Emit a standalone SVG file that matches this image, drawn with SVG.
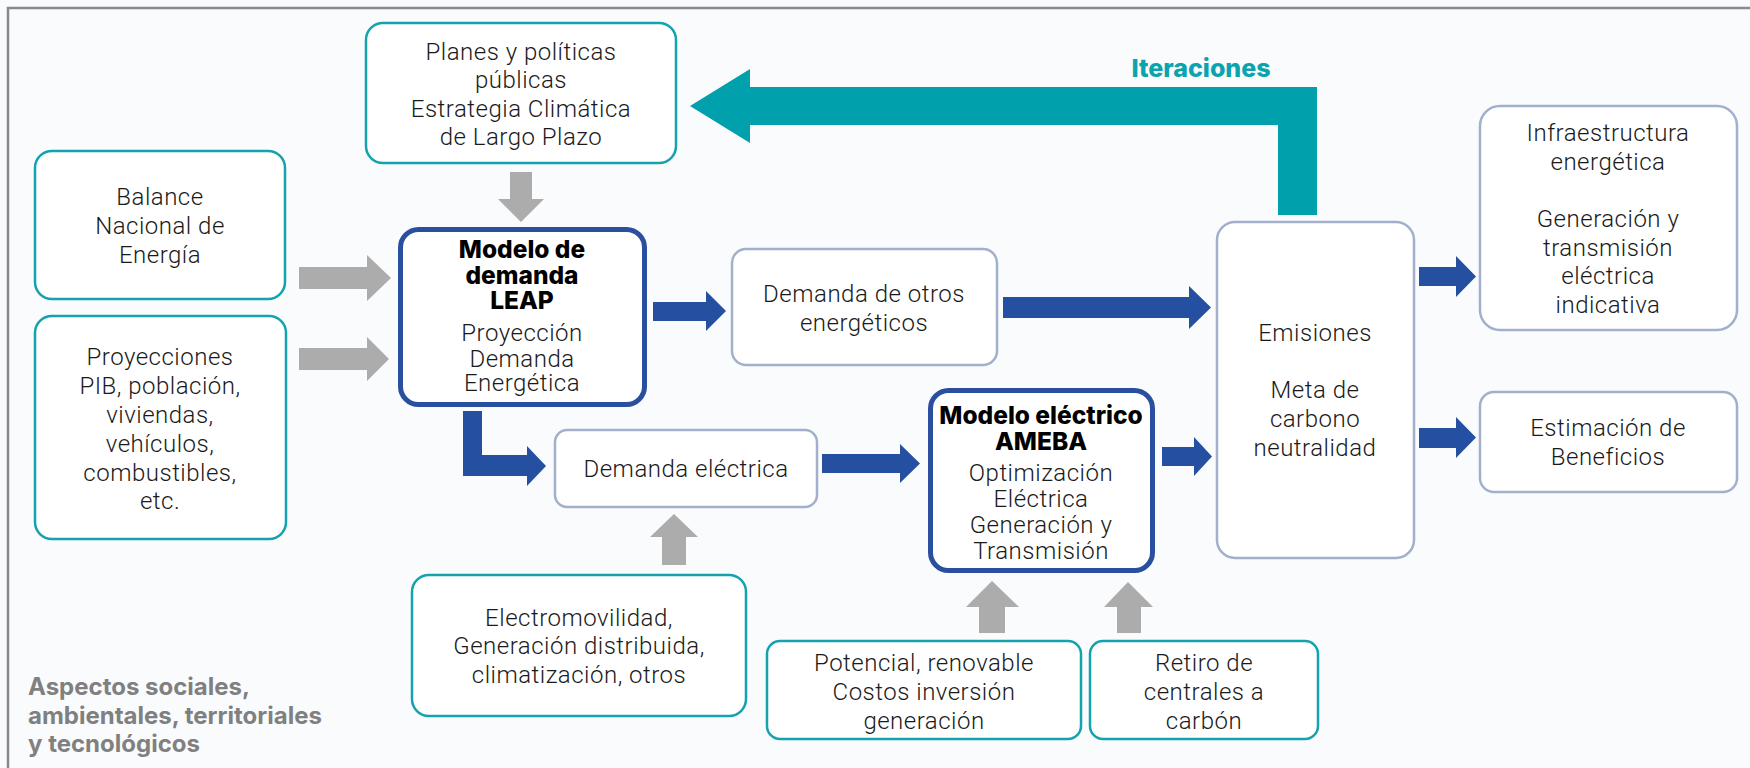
<svg xmlns="http://www.w3.org/2000/svg" width="1750" height="768" viewBox="0 0 1750 768">
<style>
.bg{fill:#f9fbfd}
.teal{fill:#ffffff;stroke:#14a3ae;stroke-width:2.5}
.blue{fill:#ffffff;stroke:#2a4f9f;stroke-width:5}
.grey{fill:#ffffff;stroke:#a2b0cc;stroke-width:2.5}
.t{font-family:Roboto,"Liberation Sans",sans-serif;font-weight:300;font-size:24px;letter-spacing:0.5px;fill:#1a1a1a;text-anchor:middle;dominant-baseline:central}
.b{font-family:Inter,"Liberation Sans",sans-serif;font-weight:800;font-size:24.5px;fill:#000000;text-anchor:middle;dominant-baseline:central}
.ga{fill:#acacac}
.ba{fill:#2550a2}
.ta{fill:#00a1ad}
.asp{font-family:Inter,"Liberation Sans",sans-serif;font-weight:700;font-size:24px;fill:#808080;dominant-baseline:central}
.it{font-family:Inter,"Liberation Sans",sans-serif;font-weight:800;font-size:25px;fill:#0ba3ad;text-anchor:middle;dominant-baseline:central}
</style>
<rect class="bg" x="0" y="0" width="1750" height="768"/>
<path d="M8 768 L8 8 L1750 8" fill="none" stroke="#8a8a8a" stroke-width="2.5"/>

<g id="connectors">
  <path id="iteraciones-arrow" class="ta" d="M1317 215 L1317 87 L750 87 L750 69 L690 106 L750 143 L750 125 L1278 125 L1278 215 Z"/>
  <path class="ga" d="M510 172 L532 172 L532 199 L544 199 L521 222 L498 199 L510 199 Z"/>
  <path class="ga" d="M299 267 L367 267 L367 255 L391 278 L367 301 L367 289 L299 289 Z"/>
  <path class="ga" d="M299 348 L367 348 L367 337 L389 359 L367 381 L367 370 L299 370 Z"/>
  <path class="ba" d="M653 302 L706 302 L706 291 L726 311 L706 331 L706 321 L653 321 Z"/>
  <path class="ba" d="M1003 297 L1189 297 L1189 286 L1211 307.5 L1189 329 L1189 318 L1003 318 Z"/>
  <path class="ba" d="M463 411 L482 411 L482 455 L527 455 L527 446 L546 466 L527 486 L527 476 L463 476 Z"/>
  <path class="ba" d="M822 454 L900 454 L900 444 L920 463.5 L900 483 L900 473 L822 473 Z"/>
  <path class="ba" d="M1162 447 L1194 447 L1194 437 L1212 456.5 L1194 476 L1194 466 L1162 466 Z"/>
  <path class="ba" d="M1419 267 L1456 267 L1456 256 L1476 276.5 L1456 297 L1456 286 L1419 286 Z"/>
  <path class="ba" d="M1419 428 L1456 428 L1456 417 L1476 437.5 L1456 458 L1456 448 L1419 448 Z"/>
  <path class="ga" d="M662 565 L662 537 L650 537 L674 514 L698 537 L686 537 L686 565 Z"/>
  <path class="ga" d="M979 633 L979 607 L966 607 L992 581 L1019 607 L1005 607 L1005 633 Z"/>
  <path class="ga" d="M1117 633 L1117 607 L1104 607 L1128 582 L1153 607 L1141 607 L1141 633 Z"/>
</g>

<g id="planes">
  <rect class="teal" x="366" y="23" width="310" height="140" rx="17"/>
  <text class="t" x="521" y="52">Planes y políticas</text>
  <text class="t" x="521" y="80">públicas</text>
  <text class="t" x="521" y="109">Estrategia Climática</text>
  <text class="t" x="521" y="137">de Largo Plazo</text>
</g>
<g id="balance">
  <rect class="teal" x="35" y="151" width="250" height="148" rx="17"/>
  <text class="t" x="160" y="197">Balance</text>
  <text class="t" x="160" y="226">Nacional de</text>
  <text class="t" x="160" y="255">Energía</text>
</g>
<g id="proyecciones">
  <rect class="teal" x="35" y="316" width="251" height="223" rx="17"/>
  <text class="t" x="160" y="357">Proyecciones</text>
  <text class="t" x="160" y="386">PIB, población,</text>
  <text class="t" x="160" y="415">viviendas,</text>
  <text class="t" x="160" y="444">vehículos,</text>
  <text class="t" x="160" y="473">combustibles,</text>
  <text class="t" x="160" y="501">etc.</text>
</g>
<g id="leap">
  <rect class="blue" x="400.5" y="229.5" width="244" height="175" rx="18"/>
  <text class="b" x="522" y="249">Modelo de</text>
  <text class="b" x="522" y="275">demanda</text>
  <text class="b" x="522" y="300">LEAP</text>
  <text class="t" x="522" y="333">Proyección</text>
  <text class="t" x="522" y="359">Demanda</text>
  <text class="t" x="522" y="383">Energética</text>
</g>
<g id="demanda-otros">
  <rect class="grey" x="732" y="249" width="265" height="116" rx="14"/>
  <text class="t" x="864" y="294">Demanda de otros</text>
  <text class="t" x="864" y="323">energéticos</text>
</g>
<g id="demanda-electrica">
  <rect class="grey" x="555" y="430" width="262" height="77" rx="12"/>
  <text class="t" x="686" y="469">Demanda eléctrica</text>
</g>
<g id="ameba">
  <rect class="blue" x="930.5" y="390.5" width="222" height="180" rx="18"/>
  <text class="b" x="1041" y="415">Modelo eléctrico</text>
  <text class="b" x="1041" y="441">AMEBA</text>
  <text class="t" x="1041" y="473">Optimización</text>
  <text class="t" x="1041" y="499">Eléctrica</text>
  <text class="t" x="1041" y="525">Generación y</text>
  <text class="t" x="1041" y="551">Transmisión</text>
</g>
<g id="emisiones">
  <rect class="grey" x="1217" y="222" width="197" height="336" rx="18"/>
  <text class="t" x="1315" y="333">Emisiones</text>
  <text class="t" x="1315" y="390">Meta de</text>
  <text class="t" x="1315" y="419">carbono</text>
  <text class="t" x="1315" y="448">neutralidad</text>
</g>
<g id="infraestructura">
  <rect class="grey" x="1480" y="106" width="257" height="224" rx="20"/>
  <text class="t" x="1608" y="133">Infraestructura</text>
  <text class="t" x="1608" y="162">energética</text>
  <text class="t" x="1608" y="219">Generación y</text>
  <text class="t" x="1608" y="248">transmisión</text>
  <text class="t" x="1608" y="276">eléctrica</text>
  <text class="t" x="1608" y="305">indicativa</text>
</g>
<g id="estimacion">
  <rect class="grey" x="1480" y="392" width="257" height="100" rx="14"/>
  <text class="t" x="1608" y="428">Estimación de</text>
  <text class="t" x="1608" y="457">Beneficios</text>
</g>
<g id="electromovilidad">
  <rect class="teal" x="412" y="575" width="334" height="141" rx="17"/>
  <text class="t" x="579" y="618">Electromovilidad,</text>
  <text class="t" x="579" y="646">Generación distribuida,</text>
  <text class="t" x="579" y="675">climatización, otros</text>
</g>
<g id="potencial">
  <rect class="teal" x="767" y="641" width="314" height="98" rx="13"/>
  <text class="t" x="924" y="663">Potencial, renovable</text>
  <text class="t" x="924" y="692">Costos inversión</text>
  <text class="t" x="924" y="721">generación</text>
</g>
<g id="retiro">
  <rect class="teal" x="1090" y="641" width="228" height="98" rx="13"/>
  <text class="t" x="1204" y="663">Retiro de</text>
  <text class="t" x="1204" y="692">centrales a</text>
  <text class="t" x="1204" y="721">carbón</text>
</g>
<g id="iteraciones-label">
  <text class="it" x="1201" y="68">Iteraciones</text>
</g>
<g id="aspectos">
  <text class="asp" x="28" y="686">Aspectos sociales,</text>
  <text class="asp" x="28" y="715">ambientales, territoriales</text>
  <text class="asp" x="28" y="743">y tecnológicos</text>
</g>
</svg>
